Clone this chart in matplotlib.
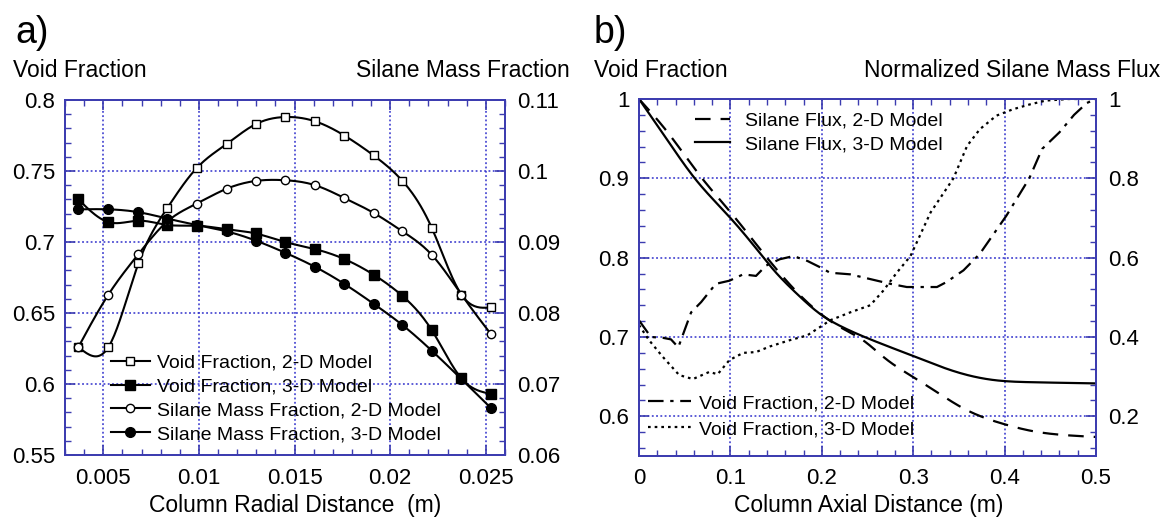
import numpy as np
import matplotlib
matplotlib.use('Agg')
import matplotlib.pyplot as plt
from matplotlib.lines import Line2D
from matplotlib.ticker import MultipleLocator

plt.rcParams['font.family'] = ['Liberation Sans', 'DejaVu Sans']

# ---- panel a data ----
radial = [0.0037, 0.00527, 0.00684, 0.00835, 0.00988, 0.01145, 0.01297, 0.0145,
          0.01607, 0.0176, 0.01913, 0.02064, 0.02217, 0.02372, 0.02527]
void_2d = [0.626, 0.626, 0.685, 0.724, 0.752, 0.769, 0.783, 0.788,
           0.785, 0.775, 0.761, 0.743, 0.710, 0.663, 0.654]
void_3d = [0.730, 0.714, 0.715, 0.712, 0.7115, 0.709, 0.706, 0.700,
           0.695, 0.688, 0.677, 0.662, 0.638, 0.604, 0.593]
silane_2d = [0.0752, 0.0826, 0.0883, 0.0929, 0.0954, 0.0975, 0.0986, 0.0987,
             0.0980, 0.0962, 0.0941, 0.0915, 0.0882, 0.0826, 0.0770]
silane_3d = [0.0946, 0.0946, 0.0942, 0.0933, 0.0924, 0.0915, 0.0902, 0.0885,
             0.0865, 0.0841, 0.0813, 0.0783, 0.0747, 0.0707, 0.0666]

# ---- panel b data ----
flux3_x = [0, 0.03, 0.061, 0.1, 0.13, 0.15, 0.17, 0.2, 0.22, 0.25, 0.3, 0.35, 0.39, 0.43, 0.5]
flux3_y = [1.0, 0.9, 0.8, 0.7, 0.618, 0.562, 0.515, 0.455, 0.428, 0.397, 0.352, 0.31, 0.291, 0.286, 0.283]
flux2_x = [0, 0.03, 0.069, 0.1, 0.14, 0.17, 0.2, 0.22, 0.245, 0.27, 0.3, 0.33, 0.355, 0.4, 0.43, 0.47, 0.5]
flux2_y = [1.0, 0.92, 0.8, 0.715, 0.6, 0.52, 0.456, 0.425, 0.392, 0.345, 0.299, 0.255, 0.22, 0.18, 0.163, 0.152, 0.148]
vf2_x = [0, 0.013, 0.026, 0.035, 0.043, 0.057, 0.068, 0.084, 0.099, 0.114, 0.128, 0.139, 0.154,
         0.169, 0.184, 0.198, 0.209, 0.231, 0.253, 0.275, 0.293, 0.326, 0.336, 0.355, 0.373,
         0.402, 0.427, 0.441, 0.46, 0.476, 0.49, 0.5]
vf2_y = [0.721, 0.700, 0.699, 0.697, 0.687, 0.731, 0.744, 0.767, 0.771, 0.779, 0.777, 0.790, 0.798,
         0.802, 0.796, 0.788, 0.781, 0.779, 0.773, 0.767, 0.763, 0.763, 0.769, 0.784, 0.805,
         0.853, 0.900, 0.937, 0.958, 0.980, 0.995, 1.0]
vf3_x = [0, 0.011, 0.026, 0.044, 0.059, 0.077, 0.086, 0.099, 0.114, 0.128, 0.143, 0.165, 0.184,
         0.2, 0.209, 0.231, 0.253, 0.267, 0.282, 0.297, 0.319, 0.344, 0.359, 0.373, 0.391,
         0.409, 0.427, 0.445, 0.47, 0.5]
vf3_y = [0.715, 0.696, 0.675, 0.652, 0.647, 0.656, 0.653, 0.671, 0.680, 0.681, 0.688, 0.696, 0.702,
         0.714, 0.721, 0.731, 0.740, 0.758, 0.781, 0.802, 0.857, 0.900, 0.941, 0.962, 0.979,
         0.987, 0.993, 0.998, 1.0, 1.0]


def smooth(x, y, n=300):
    # natural cubic spline
    x = np.asarray(x, float)
    y = np.asarray(y, float)
    h = np.diff(x)
    m = len(x)
    A = np.zeros((m, m))
    b = np.zeros(m)
    A[0, 0] = A[-1, -1] = 1
    for i in range(1, m - 1):
        A[i, i - 1] = h[i - 1]
        A[i, i] = 2 * (h[i - 1] + h[i])
        A[i, i + 1] = h[i]
        b[i] = 3 * ((y[i + 1] - y[i]) / h[i] - (y[i] - y[i - 1]) / h[i - 1])
    c = np.linalg.solve(A, b)
    xs = np.linspace(x[0], x[-1], n)
    k = np.clip(np.searchsorted(x, xs) - 1, 0, m - 2)
    dx = xs - x[k]
    bk = (y[k + 1] - y[k]) / h[k] - h[k] * (2 * c[k] + c[k + 1]) / 3
    dk = (c[k + 1] - c[k]) / (3 * h[k])
    return xs, y[k] + bk * dx + c[k] * dx ** 2 + dk * dx ** 3


W, H = 1163, 519
spine_c = '#3c3cb0'
grid_c = '#3030cc'
fs_lab = 16.5
fig = plt.figure(figsize=(W / 100, H / 100), dpi=100)


def style(ax, ax2):
    for a in (ax, ax2):
        for s in a.spines.values():
            s.set_color(spine_c)
            s.set_linewidth(1.3)
    ax.tick_params(which='both', direction='in', top=True, right=False,
                   color=spine_c, labelsize=16, pad=7)
    ax.tick_params(which='major', length=7, width=1.2)
    ax.tick_params(which='minor', length=4, width=1.0)
    ax.tick_params(axis='x', pad=9)
    ax2.tick_params(which='both', direction='in', color=spine_c, labelsize=16, pad=9)
    ax2.tick_params(which='major', length=7, width=1.2)
    ax2.tick_params(which='minor', length=4, width=1.0)
    ax.grid(True, which='major', color=grid_c, linestyle=(0, (1.2, 1.6)), linewidth=1.1)
    ax.set_axisbelow(True)


# ---------------- panel a ----------------
ax = fig.add_axes([65 / W, (H - 455) / H, 440 / W, 355 / H])
ax2 = ax.twinx()
ax.set_xlim(0.003, 0.026)
ax.set_ylim(0.55, 0.8)
ax2.set_ylim(0.06, 0.11)
ax.xaxis.set_minor_locator(MultipleLocator(0.001))
ax.yaxis.set_minor_locator(MultipleLocator(0.01))
ax2.yaxis.set_minor_locator(MultipleLocator(0.002))
ax.set_xticks([0.005, 0.01, 0.015, 0.02, 0.025])
ax.set_xticklabels(['0.005', '0.01', '0.015', '0.02', '0.025'])
ax.set_yticks([0.55, 0.6, 0.65, 0.7, 0.75, 0.8])
ax.set_yticklabels(['0.55', '0.6', '0.65', '0.7', '0.75', '0.8'])
ax2.set_yticks([0.06, 0.07, 0.08, 0.09, 0.1, 0.11])
ax2.set_yticklabels(['0.06', '0.07', '0.08', '0.09', '0.1', '0.11'])
style(ax, ax2)

lw = 1.5
xs, ys = smooth(radial, void_2d)
ax.plot(xs, ys, color='k', lw=lw)
ax.plot(radial, void_2d, 's', ms=6, mfc='white', mec='k', mew=1.0)
xs, ys = smooth(radial, void_3d)
ax.plot(xs, ys, color='k', lw=lw)
ax.plot(radial, void_3d, 's', ms=7, color='k')
xs, ys = smooth(radial, silane_2d)
ax2.plot(xs, ys, color='k', lw=lw)
ax2.plot(radial, silane_2d, 'o', ms=6, mfc='white', mec='k', mew=1.0)
xs, ys = smooth(radial, silane_3d)
ax2.plot(xs, ys, color='k', lw=lw)
ax2.plot(radial, silane_3d, 'o', ms=7, color='k')

handles = [
    Line2D([], [], color='k', lw=lw, marker='s', ms=6, mfc='white', mec='k'),
    Line2D([], [], color='k', lw=lw, marker='s', ms=7),
    Line2D([], [], color='k', lw=lw, marker='o', ms=6, mfc='white', mec='k'),
    Line2D([], [], color='k', lw=lw, marker='o', ms=7),
]
labels = ['Void Fraction, 2-D Model', 'Void Fraction, 3-D Model',
          'Silane Mass Fraction, 2-D Model', 'Silane Mass Fraction, 3-D Model']
ax2.legend(handles, labels, loc='center left', bbox_to_anchor=(0.104, 0.159),
           frameon=False, fontsize=14, handlelength=2.0, handletextpad=0.4,
           labelspacing=0.32, borderpad=0, borderaxespad=0)

fig.text(15 / W, (H - 43) / H, 'a)', fontsize=27)
fig.text(13 / W, (H - 77) / H, 'Void Fraction', fontsize=fs_lab)
fig.text(570 / W, (H - 77) / H, 'Silane Mass Fraction', fontsize=fs_lab, ha='right')
fig.text(295 / W, (H - 512) / H, 'Column Radial Distance  (m)', fontsize=fs_lab,
         ha='center', va='baseline')

# ---------------- panel b ----------------
bx = fig.add_axes([639 / W, (H - 456) / H, 457 / W, 357 / H])
bx2 = bx.twinx()
bx.set_xlim(0, 0.5)
bx.set_ylim(0.55, 1.0)
bx2.set_ylim(0.1, 1.0)
bx.xaxis.set_minor_locator(MultipleLocator(0.02))
bx.yaxis.set_minor_locator(MultipleLocator(0.02))
bx2.yaxis.set_minor_locator(MultipleLocator(0.04))
bx.set_xticks([0, 0.1, 0.2, 0.3, 0.4, 0.5])
bx.set_xticklabels(['0', '0.1', '0.2', '0.3', '0.4', '0.5'])
bx.set_yticks([0.6, 0.7, 0.8, 0.9, 1.0])
bx.set_yticklabels(['0.6', '0.7', '0.8', '0.9', '1'])
bx2.set_yticks([0.2, 0.4, 0.6, 0.8, 1.0])
bx2.set_yticklabels(['0.2', '0.4', '0.6', '0.8', '1'])
style(bx, bx2)

xs, ys = smooth(flux2_x, flux2_y)
l1, = bx2.plot(xs, ys, color='k', lw=1.6, ls=(0, (7, 4.5)))
xs, ys = smooth(flux3_x, flux3_y)
l2, = bx2.plot(xs, ys, color='k', lw=1.6, ls='-')
l3, = bx.plot(vf2_x, vf2_y, color='k', lw=1.6, ls=(0, (7, 3, 1.5, 3)))
l4, = bx.plot(vf3_x, vf3_y, color='k', lw=1.6, ls=(0, (1.2, 1.8)))

leg1 = bx2.legend([l1, l2], ['Silane Flux, 2-D Model', 'Silane Flux, 3-D Model'],
                  loc='center left', bbox_to_anchor=(0.1225, 0.906), frameon=False,
                  fontsize=14, handlelength=1.8, handletextpad=0.75,
                  labelspacing=0.32, borderpad=0, borderaxespad=0)
bx2.add_artist(leg1)
bx2.legend([l3, l4], ['Void Fraction, 2-D Model', 'Void Fraction, 3-D Model'],
           loc='center left', bbox_to_anchor=(0.02, 0.111), frameon=False,
           fontsize=14, handlelength=2.2, handletextpad=0.4,
           labelspacing=0.42, borderpad=0, borderaxespad=0)

fig.text(594 / W, (H - 43) / H, 'b)', fontsize=27)
fig.text(594 / W, (H - 77) / H, 'Void Fraction', fontsize=fs_lab)
fig.text(1160 / W, (H - 77) / H, 'Normalized Silane Mass Flux', fontsize=fs_lab, ha='right')
fig.text(869 / W, (H - 512) / H, 'Column Axial Distance (m)', fontsize=fs_lab,
         ha='center', va='baseline')

fig.savefig('out.png', dpi=100)
